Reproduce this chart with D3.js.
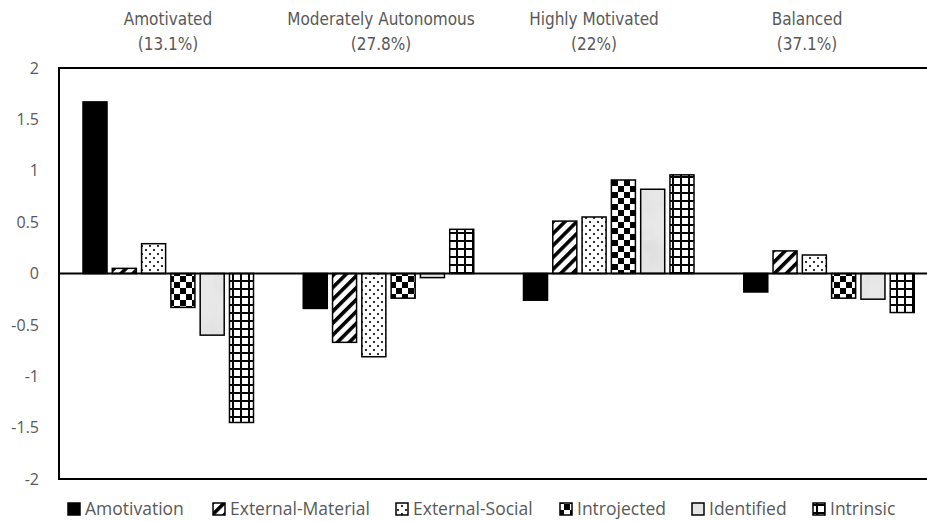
<!DOCTYPE html>
<html><head><meta charset="utf-8">
<script src="https://cdn.jsdelivr.net/npm/d3@7"></script>
<style>
html,body{margin:0;padding:0;background:#fff;}
svg{display:block;}
</style></head>
<body>
<svg id="chart" width="927" height="522"></svg>
<script>
const groups = ["Amotivated", "Moderately Autonomous", "Highly Motivated", "Balanced"];
const groupPct = ["(13.1%)", "(27.8%)", "(22%)", "(37.1%)"];
const series = ["Amotivation", "External-Material", "External-Social", "Introjected", "Identified", "Intrinsic"];
const amotivation      = [1.67, -0.34, -0.26, -0.18];
const externalMaterial = [0.05, -0.67, 0.51, 0.22];
const externalSocial   = [0.29, -0.81, 0.55, 0.18];
const introjected      = [-0.33, -0.24, 0.91, -0.24];
const identified       = [-0.60, -0.04, 0.82, -0.25];
const intrinsic        = [-1.45, 0.43, 0.96, -0.38];
const yTicks = [2, 1.5, 1, 0.5, 0, -0.5, -1, -1.5, -2];
const seriesValues = [amotivation, externalMaterial, externalSocial, introjected, identified, intrinsic];

const svg = d3.select("#chart");
const L = 59, R = 940, T = 68, B = 479;

const defs = svg.append("defs");
const pSolid = "#000";
const pStripe = defs.append("pattern").attr("id","p1").attr("patternUnits","userSpaceOnUse")
  .attr("width",8.4).attr("height",8.4).attr("patternTransform","rotate(45)");
pStripe.append("rect").attr("width",8.4).attr("height",8.4).attr("fill","#fff");
pStripe.append("rect").attr("width",3.6).attr("height",8.4).attr("fill","#000");

const pDots = defs.append("pattern").attr("id","p2").attr("patternUnits","userSpaceOnUse")
  .attr("width",8).attr("height",8);
pDots.append("rect").attr("width",8).attr("height",8).attr("fill","#fff");
pDots.append("circle").attr("cx",2).attr("cy",2).attr("r",1.1).attr("fill","#000");
pDots.append("circle").attr("cx",6).attr("cy",6).attr("r",1.1).attr("fill","#000");

const pCheck = defs.append("pattern").attr("id","p3").attr("patternUnits","userSpaceOnUse")
  .attr("width",12).attr("height",12);
pCheck.append("rect").attr("width",12).attr("height",12).attr("fill","#fff");
pCheck.append("rect").attr("width",6).attr("height",6).attr("fill","#000");
pCheck.append("rect").attr("x",6).attr("y",6).attr("width",6).attr("height",6).attr("fill","#000");

const filt = defs.append("filter").attr("id","marble").attr("x",0).attr("y",0).attr("width",1).attr("height",1);
filt.append("feTurbulence").attr("type","fractalNoise").attr("baseFrequency","0.05 0.025").attr("numOctaves",3).attr("seed",5);
filt.append("feColorMatrix").attr("type","matrix")
  .attr("values","0 0 0 0 0.72  0 0 0 0 0.72  0 0 0 0 0.72  1.6 0 0 0 -0.6");
const pMarble = defs.append("pattern").attr("id","p4").attr("patternUnits","userSpaceOnUse")
  .attr("width",80).attr("height",80);
pMarble.append("rect").attr("width",80).attr("height",80).attr("fill","#e8e8e8");
pMarble.append("rect").attr("width",80).attr("height",80).attr("fill","#fff").attr("filter","url(#marble)");

const pGrid = defs.append("pattern").attr("id","p5").attr("patternUnits","userSpaceOnUse")
  .attr("width",8).attr("height",8);
pGrid.append("rect").attr("width",8).attr("height",8).attr("fill","#fff");
pGrid.append("rect").attr("width",2).attr("height",8).attr("fill","#000");
pGrid.append("rect").attr("width",8).attr("height",2).attr("fill","#000");

const fills = [pSolid, "url(#p1)", "url(#p2)", "url(#p3)", "url(#p4)", "url(#p5)"];

const x0 = d3.scaleBand().domain(groups).range([L, R]).padding(0);
const x1 = d3.scaleBand().domain(series).range([24, 194.5]).paddingInner(0.18).paddingOuter(0);
const y = d3.scaleLinear().domain([-2, 2]).range([B, T]);

const g = svg.append("g");
groups.forEach((grp, gi) => {
  series.forEach((s, si) => {
    const v = seriesValues[si][gi];
    g.append("rect")
      .attr("x", x0(grp) + x1(s))
      .attr("width", x1.bandwidth())
      .attr("y", y(Math.max(0, v)))
      .attr("height", Math.abs(y(v) - y(0)))
      .attr("fill", fills[si])
      .attr("stroke", "#000").attr("stroke-width", 1.5);
  });
});

svg.append("line").attr("x1",L).attr("x2",R).attr("y1",T).attr("y2",T).attr("stroke","#000").attr("stroke-width",2);
svg.append("line").attr("x1",L).attr("x2",R).attr("y1",B).attr("y2",B).attr("stroke","#000").attr("stroke-width",2);
svg.append("line").attr("x1",L).attr("x2",L).attr("y1",T-1).attr("y2",B+1).attr("stroke","#000").attr("stroke-width",2);
svg.append("line").attr("x1",L).attr("x2",R).attr("y1",y(0)).attr("y2",y(0)).attr("stroke","#000").attr("stroke-width",2);

const yAxis = d3.axisLeft(y).tickValues(yTicks).tickSize(0).tickPadding(20).tickFormat(d => String(d));
const ya = svg.append("g").attr("transform", `translate(${L},0)`).call(yAxis);
ya.select(".domain").remove();
ya.selectAll("text").attr("font-family","'Open Sans', sans-serif").attr("font-size",16).attr("fill","#595959");

const titleX = d3.scalePoint().domain(groups).range([168, 807]);
groups.forEach((grp, gi) => {
  const t = svg.append("text").attr("x", titleX(grp)).attr("text-anchor","middle")
    .attr("font-family","'Liberation Sans Narrow','DejaVu Sans Condensed',sans-serif")
    .attr("font-size",17).attr("fill","#595959");
  t.append("tspan").attr("x", titleX(grp)).attr("y", 25).text(grp);
  t.append("tspan").attr("x", titleX(grp)).attr("y", 50).text(groupPct[gi]);
});

const legX = [68, 213, 396, 560, 692, 813];
const leg = svg.append("g");
series.forEach((s, si) => {
  leg.append("rect").attr("x", legX[si]).attr("y", 503).attr("width", 12).attr("height", 12)
    .attr("fill", fills[si]).attr("stroke","#000").attr("stroke-width",1.5);
  leg.append("text").attr("x", legX[si] + 17).attr("y", 515)
    .attr("font-family","'Open Sans', sans-serif").attr("font-size",17.5).attr("fill","#595959").text(s);
});
</script>
</body></html>
